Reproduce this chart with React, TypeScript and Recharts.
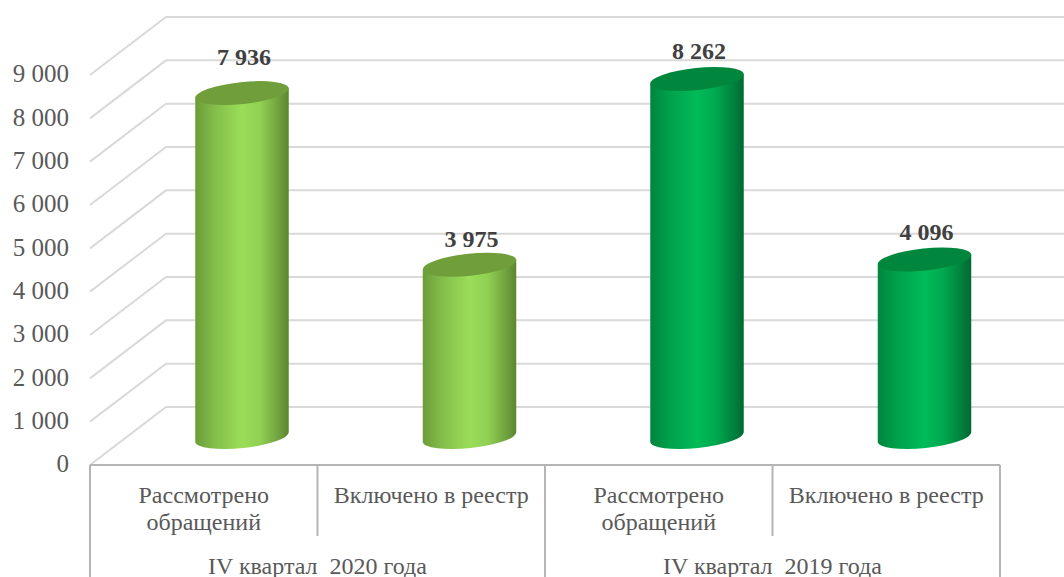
import React from "react";
import { BarChart, Bar, XAxis, YAxis, CartesianGrid, LabelList } from "recharts";

const categories = ["Рассмотрено обращений", "Включено в реестр", "Рассмотрено обращений", "Включено в реестр"];
const quarters = ["IV квартал  2020 года", "IV квартал  2020 года", "IV квартал  2019 года", "IV квартал  2019 года"];
const values = [7936, 3975, 8262, 4096];
const yTicks = [0, 1000, 2000, 3000, 4000, 5000, 6000, 7000, 8000, 9000];

const chartData = categories.map((category, i) => ({
  id: i,
  category,
  quarter: quarters[i],
  value: values[i],
}));

const WIDTH = 1064;
const HEIGHT = 577;
const FONT = "'Liberation Serif', serif";
const margin = { top: 75, right: 64, bottom: 0, left: 0 };
const Y_AXIS_W = 90;
const AXIS_Y = 465;
const BAND = (WIDTH - margin.left - margin.right - Y_AXIS_W) / categories.length;

// the fake 3d box: how far the back wall sits from the front plane
const DEPTH_X = 76;
const DEPTH_Y = 58;
const BOX_LINE = "#b5b5b5";
// the labels were placed by hand in the original, so each has its own lift
const LABEL_LIFT = [27, 17, 19, 19];

const fmt = (v: number) => String(v).replace(/\B(?=(\d{3})+$)/g, " ");

function GridLine({ x1, y1, x2 }: any) {
  return (
    <polyline
      points={`${x1},${y1} ${x1 + DEPTH_X},${y1 - DEPTH_Y} ${x2 + DEPTH_X},${y1 - DEPTH_Y}`}
      fill="none"
      stroke="#d9d9d9"
      strokeWidth={2}
    />
  );
}

function Cylinder({ x, y, width, height, payload }: any) {
  const cx = x + width / 2 + DEPTH_X / 2;
  const topY = y - DEPTH_Y / 2 + 1;
  const baseY = y + height - DEPTH_Y / 2 + 1;
  const rx = 47;
  const ry = 11;
  const tilt = -6;
  const dy = rx * Math.sin((-tilt * Math.PI) / 180);
  const dx = rx * Math.cos((-tilt * Math.PI) / 180);
  const is2020 = payload.quarter === quarters[0];
  const body = `M${cx - dx},${topY + dy} L${cx - dx},${baseY + dy} A${rx},${ry} ${tilt} 0 0 ${cx + dx},${baseY - dy} L${cx + dx},${topY - dy} Z`;
  return (
    <g>
      <path d={body} fill={is2020 ? "url(#lightBody)" : "url(#darkBody)"} />
      <ellipse
        cx={cx}
        cy={topY}
        rx={rx}
        ry={ry}
        transform={`rotate(${tilt} ${cx} ${topY})`}
        fill={is2020 ? "#6f9e3b" : "#00873d"}
      />
    </g>
  );
}

function ValueLabel({ x, y, width, value, index }: any) {
  return (
    <text
      x={x + width / 2 + DEPTH_X / 2 + 2}
      y={y - DEPTH_Y / 2 - LABEL_LIFT[index]}
      textAnchor="middle"
      fontFamily={FONT}
      fontSize={24}
      fontWeight="bold"
      fill="#404040"
    >
      {fmt(value)}
    </text>
  );
}

function CategoryTick({ x, payload }: any) {
  const label = String(payload.value);
  const lines = label === categories[0] ? label.split(" ") : [label];
  const left = x - BAND / 2;
  return (
    <g>
      <line x1={left} y1={AXIS_Y} x2={left} y2={536} stroke={BOX_LINE} strokeWidth={2} />
      <text textAnchor="middle" fontFamily={FONT} fontSize={24} fill="#595959">
        {lines.map((line, i) => (
          <tspan key={i} x={x} y={503 + i * 27}>
            {line}
          </tspan>
        ))}
      </text>
    </g>
  );
}

function QuarterTick({ x, payload }: any) {
  return (
    <g>
      <line x1={x - BAND} y1={AXIS_Y} x2={x - BAND} y2={HEIGHT} stroke={BOX_LINE} strokeWidth={2} />
      <line x1={x + BAND} y1={AXIS_Y} x2={x + BAND} y2={HEIGHT} stroke={BOX_LINE} strokeWidth={2} />
      <text x={x} y={574} textAnchor="middle" fontFamily={FONT} fontSize={24} fill="#595959" xmlSpace="preserve">
        {payload.value}
      </text>
    </g>
  );
}

function gradientStops(colors: string[]) {
  const offsets = ["0%", "20%", "50%", "70%", "90%", "100%"];
  return colors.map((c, i) => <stop key={i} offset={offsets[i]} stopColor={c} />);
}

export default function App() {
  return (
    <div style={{ position: "absolute", left: 0, top: 0, width: WIDTH, height: HEIGHT, overflow: "hidden", background: "#fff" }}>
      <BarChart width={WIDTH} height={HEIGHT} data={chartData} margin={margin} barSize={94}>
        <defs>
          <linearGradient id="lightBody" x1="0" y1="0" x2="1" y2="0">
            {gradientStops(["#6b9c38", "#82bd4a", "#9bdd59", "#90cf52", "#6f9f3e", "#5a852e"])}
          </linearGradient>
          <linearGradient id="darkBody" x1="0" y1="0" x2="1" y2="0">
            {gradientStops(["#00853f", "#00a04a", "#00bb58", "#00a94f", "#007f3c", "#006a32"])}
          </linearGradient>
        </defs>
        <CartesianGrid vertical={false} horizontal={(props: any) => <GridLine key={props.key} {...props} />} syncWithTicks />
        <XAxis
          xAxisId="category"
          dataKey="category"
          height={71}
          interval={0}
          tickLine={false}
          axisLine={{ stroke: BOX_LINE, strokeWidth: 2 }}
          tick={<CategoryTick />}
        />
        <XAxis
          xAxisId="quarter"
          dataKey="quarter"
          allowDuplicatedCategory={false}
          height={41}
          interval={0}
          tickLine={false}
          axisLine={false}
          tick={<QuarterTick />}
        />
        <YAxis
          width={Y_AXIS_W}
          domain={[0, 9000]}
          ticks={yTicks}
          interval={0}
          tickLine={false}
          axisLine={false}
          tickFormatter={fmt}
          tickMargin={15}
          tick={{ fontFamily: FONT, fontSize: 25, fill: "#595959", dy: -1.5 }}
        />
        <Bar dataKey="value" xAxisId="category" shape={<Cylinder />} isAnimationActive={false}>
          <LabelList dataKey="value" content={<ValueLabel />} />
        </Bar>
      </BarChart>
    </div>
  );
}
